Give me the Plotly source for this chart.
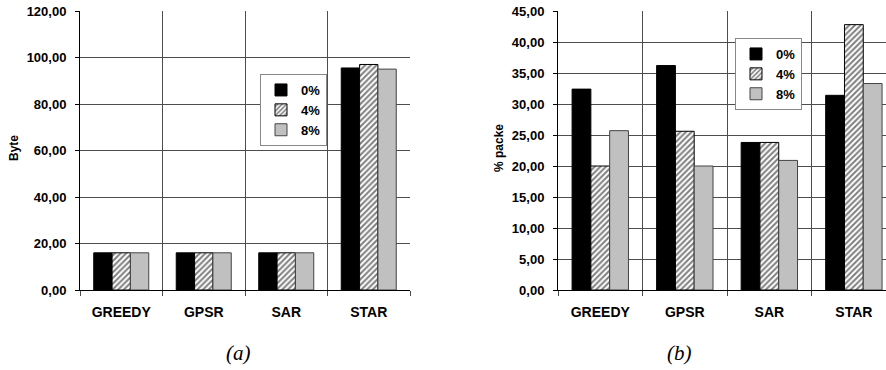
import plotly.graph_objects as go

categories = ["GREEDY", "GPSR", "SAR", "STAR"]
series_names = ["0%", "4%", "8%"]

# (a) Bytes
bytes_0 = [16.0, 16.0, 16.0, 95.5]
bytes_4 = [16.0, 16.0, 16.0, 97.0]
bytes_8 = [16.0, 16.0, 16.0, 95.0]

# (b) % packets
pkt_0 = [32.4, 36.2, 23.8, 31.4]
pkt_4 = [20.0, 25.6, 23.8, 42.8]
pkt_8 = [25.7, 20.0, 20.9, 33.3]

W, H = 886, 370
T = 11
B = 370 - 290
PH = H - T - B

def px(x):
    return x / W

def py(y):
    return 1 - (y - T) / PH

styles = [
    dict(color="black", line=dict(color="black", width=1)),
    dict(color="white", line=dict(color="black", width=1),
         pattern=dict(shape="/", fgcolor="black", bgcolor="white", size=4, solidity=0.5)),
    dict(color="#c0c0c0", line=dict(color="#444444", width=1)),
]

fig = go.Figure()
for name, vals, st in zip(series_names, [bytes_0, bytes_4, bytes_8], styles):
    fig.add_trace(go.Bar(x=categories, y=vals, name=name, marker=st,
                         xaxis="x", yaxis="y", legend="legend"))
for name, vals, st in zip(series_names, [pkt_0, pkt_4, pkt_8], styles):
    fig.add_trace(go.Bar(x=categories, y=vals, name=name, marker=st,
                         xaxis="x2", yaxis="y2", legend="legend2"))

FAM = "Liberation Sans, Arial, sans-serif"
font_tick = dict(family=FAM, size=13, color="black", weight="bold")
font_cat = dict(family=FAM, size=14, color="black", weight="bold")

xcommon = dict(type="category", tickson="boundaries", showgrid=True, gridcolor="#4d4d4d",
               gridwidth=1, ticks="outside", ticklen=5, tickcolor="#4d4d4d",
               showline=True, linecolor="black", linewidth=1,
               tickfont=font_cat, ticklabelstandoff=9, zeroline=False)
ycommon = dict(showgrid=True, gridcolor="#4d4d4d", gridwidth=1, ticks="outside",
               ticklen=4, tickcolor="black", showline=True, linecolor="black", linewidth=1,
               tickformat=".2f", tickfont=font_tick, zeroline=False, ticklabelstandoff=6)

legfont = dict(family=FAM, size=13, color="black", weight="bold")

fig.update_layout(
    width=W, height=H,
    margin=dict(l=0, r=0, t=T, b=B),
    paper_bgcolor="white", plot_bgcolor="white",
    separators=",.",
    barmode="group", bargap=0.333, bargroupgap=0,
    font=dict(family=FAM, color="black"),
    xaxis=dict(domain=[px(80), px(410)], range=[-0.5, 3.5], anchor="y", **xcommon),
    yaxis=dict(domain=[0, 1], range=[0, 120], dtick=20, anchor="x", **ycommon),
    xaxis2=dict(domain=[px(558), 1.0], range=[-0.5, 3.38], anchor="y2", **xcommon),
    yaxis2=dict(domain=[0, 1], range=[0, 45], dtick=5, anchor="x2", **ycommon),
    legend=dict(x=px(260), y=py(74), xanchor="left", yanchor="top",
                bgcolor="white", bordercolor="#888888", borderwidth=1,
                font=legfont, itemwidth=30, tracegroupgap=0),
    legend2=dict(x=px(735), y=py(38), xanchor="left", yanchor="top",
                 bgcolor="white", bordercolor="#888888", borderwidth=1,
                 font=legfont, itemwidth=30, tracegroupgap=0),
    annotations=[
        dict(text="<b>Byte</b>", x=px(14), y=py(148), xref="paper", yref="paper",
             textangle=-90, showarrow=False, font=dict(size=12, color="black"),
             xanchor="center", yanchor="middle"),
        dict(text="<b>% packe</b>", x=px(499), y=py(148), xref="paper", yref="paper",
             textangle=-90, showarrow=False, font=dict(size=12, color="black"),
             xanchor="center", yanchor="middle"),
        dict(text="<i>(a)</i>", x=px(238), y=py(353), xref="paper", yref="paper",
             showarrow=False, font=dict(family="Liberation Serif, serif", size=21, color="black"),
             xanchor="center", yanchor="middle"),
        dict(text="<i>(b)</i>", x=px(679), y=py(353), xref="paper", yref="paper",
             showarrow=False, font=dict(family="Liberation Serif, serif", size=21, color="black"),
             xanchor="center", yanchor="middle"),
    ],
)

fig.write_html("out.html", config={"displayModeBar": False},
               post_script="document.body.style.margin='0px';document.body.style.overflow='hidden';")
